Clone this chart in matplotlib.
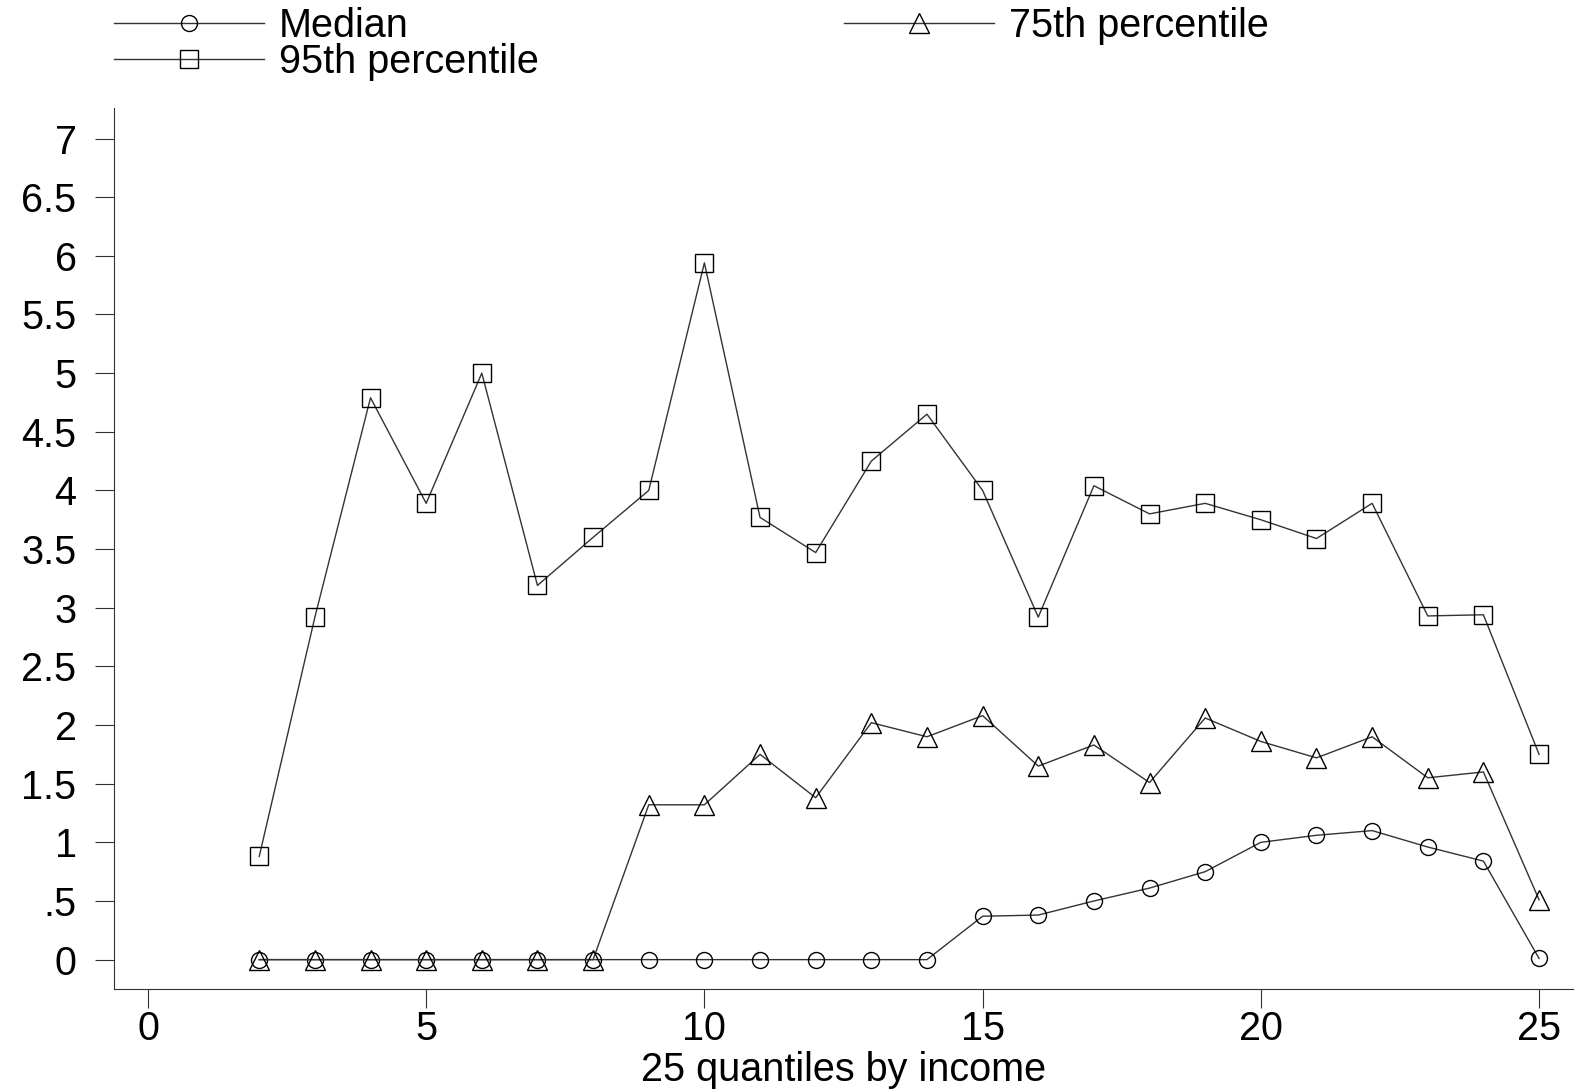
import matplotlib
matplotlib.use('Agg')
from matplotlib import pyplot as plt
from matplotlib.ticker import FuncFormatter

plt.rcParams['font.family'] = ['Liberation Sans', 'DejaVu Sans']

quantile = list(range(2, 26))
median = [0, 0, 0, 0, 0, 0, 0, 0, 0, 0, 0, 0, 0,
          0.37, 0.38, 0.50, 0.61, 0.75, 1.00, 1.06, 1.10, 0.96, 0.84, 0.01]
p75 = [0, 0, 0, 0, 0, 0, 0, 1.32, 1.32, 1.75, 1.38, 2.02, 1.90,
       2.08, 1.65, 1.83, 1.51, 2.06, 1.86, 1.72, 1.90, 1.55, 1.60, 0.51]
p95 = [0.88, 2.92, 4.79, 3.89, 5.00, 3.19, 3.60, 4.00, 5.94, 3.77, 3.47, 4.25, 4.65,
       4.00, 2.92, 4.04, 3.80, 3.89, 3.75, 3.59, 3.89, 2.93, 2.94, 1.75]
yticks = [0, 0.5, 1, 1.5, 2, 2.5, 3, 3.5, 4, 4.5, 5, 5.5, 6, 6.5, 7]
xticks = [0, 5, 10, 15, 20, 25]

fs = 28.5
line_col = '#333333'
fig = plt.figure(figsize=(15.79, 10.9), dpi=100)
ax = fig.add_axes([0.0722, 0.0927, 0.924, 0.8082])

l_med, = ax.plot(quantile, median, color=line_col, lw=1.0, marker='o', ms=11.5,
                 mfc='none', mec='black', mew=1.0)
l_75, = ax.plot(quantile, p75, color=line_col, lw=1.0, marker='^', ms=14,
                mfc='none', mec='black', mew=1.0)
l_95, = ax.plot(quantile, p95, color=line_col, lw=1.0, marker='s', ms=12.5,
                mfc='none', mec='black', mew=1.0)

ax.set_xlim(-0.61, 25.61)
ax.set_ylim(-0.25, 7.26)
ax.set_xticks(xticks)
ax.set_yticks(yticks)

def fmt(v, pos):
    s = ('%g' % v)
    if s.startswith('0.'):
        s = s[1:]
    return s

ax.yaxis.set_major_formatter(FuncFormatter(fmt))
ax.tick_params(direction='out', length=14, width=0.8, labelsize=fs, colors=line_col,
               labelcolor='black')
ax.tick_params(axis='y', pad=13)
ax.tick_params(axis='x', pad=1)
for side in ['top', 'right']:
    ax.spines[side].set_visible(False)
for side in ['left', 'bottom']:
    ax.spines[side].set_color(line_col)
    ax.spines[side].set_linewidth(0.8)

ax.set_xlabel("25 quantiles by income", fontsize=fs, labelpad=2)

fig.legend([l_med, l_95, l_75], ["Median", "95th percentile", "75th percentile"],
           ncol=2, loc='upper left', bbox_to_anchor=(0.0545, 1.019), frameon=False,
           fontsize=fs, handlelength=3.8, handletextpad=0.38, columnspacing=7.7,
           labelspacing=-0.05, borderpad=0.2)

fig.savefig('out.png', dpi=100)
